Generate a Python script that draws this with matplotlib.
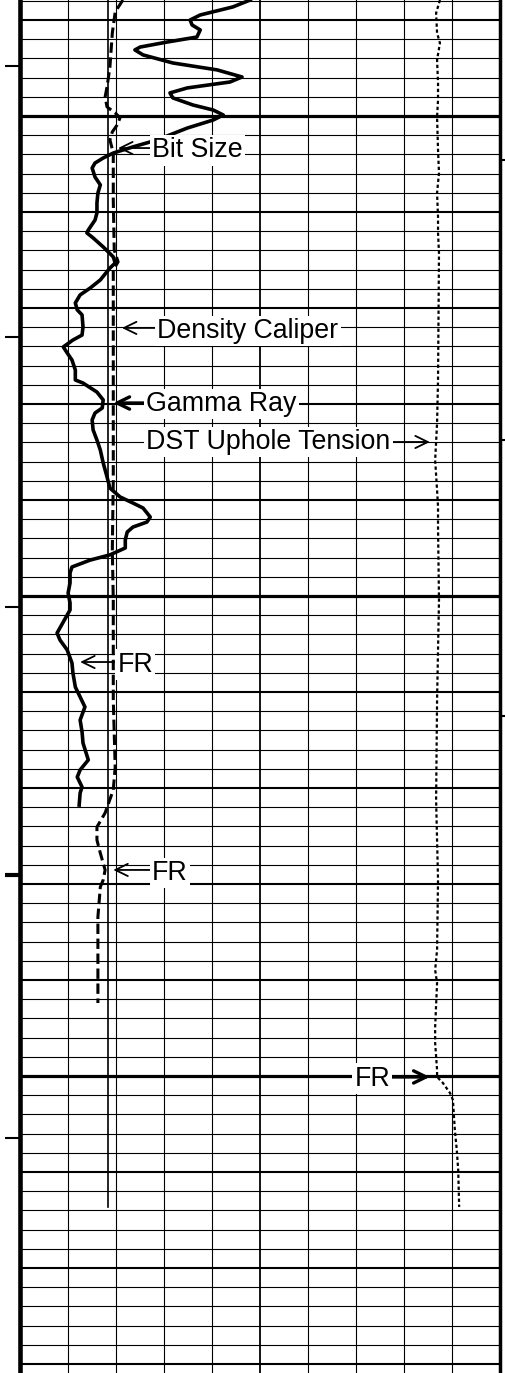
import matplotlib
matplotlib.use('Agg')
import matplotlib.pyplot as plt

plt.rcParams['font.family'] = ['Liberation Sans', 'DejaVu Sans']

# depth is in chart-line units (one horizontal grid line per unit),
# curve values are positions across the track (0-10 divisions)

gr_depth = [-1.04, -0.68, -0.26, 0.0, 0.26, 0.52, 0.89, 1.15, 1.41, 1.56,
            1.82, 2.24, 2.60, 2.97, 3.23, 3.54, 3.80, 4.06, 4.43, 4.69,
            4.95, 5.21, 5.63, 6.25, 6.61, 6.93, 7.19, 7.45, 7.71, 8.18,
            8.59, 9.01, 9.53, 10.05, 10.42, 10.94, 11.09, 11.35, 11.82, 12.34,
            12.66, 12.92, 13.54, 13.96, 14.32, 14.74, 15.10, 15.36, 15.99, 16.41,
            16.67, 17.03, 17.34, 17.71, 18.23, 18.75, 18.91, 19.38, 19.79, 20.21,
            20.47, 20.83, 21.35, 21.88, 22.40, 23.07, 23.80, 24.38, 24.84, 25.16,
            25.42, 25.89, 26.15, 26.41, 26.67, 27.08, 27.50, 27.86, 28.13, 28.49,
            28.80, 29.32, 29.84, 30.36, 30.73, 31.35, 31.93, 32.29, 32.81, 33.49,
            34.01, 34.74, 35.26, 35.78, 36.46, 37.08, 37.66, 38.54, 39.06, 39.43,
            39.95, 40.26, 40.89]
gamma_ray = [4.80, 4.44, 3.76, 3.55, 3.59, 3.76, 3.69, 3.07, 2.51, 2.40,
             2.57, 3.19, 4.11, 4.63, 4.38, 3.49, 3.13, 3.19, 3.61, 4.03,
             4.24, 4.03, 3.49, 2.86, 2.36, 1.95, 1.74, 1.57, 1.51, 1.57,
             1.68, 1.63, 1.61, 1.61, 1.57, 1.43, 1.40, 1.53, 1.74, 1.95,
             1.99, 1.88, 1.68, 1.47, 1.26, 1.16, 1.20, 1.30, 1.32, 1.30,
             1.11, 0.91, 0.99, 1.09, 1.16, 1.16, 1.32, 1.61, 1.74, 1.72,
             1.57, 1.51, 1.53, 1.61, 1.68, 1.74, 1.82, 1.88, 2.09, 2.36,
             2.57, 2.72, 2.65, 2.36, 2.24, 2.20, 2.20, 1.88, 1.47, 1.09,
             1.05, 1.05, 1.01, 1.05, 1.05, 0.91, 0.78, 0.84, 0.99, 1.09,
             1.11, 1.16, 1.26, 1.36, 1.26, 1.30, 1.32, 1.43, 1.26, 1.20,
             1.30, 1.26, 1.24]

cali_depth = [-1.04, -0.42, 0.68, 2.45, 3.49, 4.01, 4.53, 4.84, 5.10, 5.47,
              5.83, 6.25, 6.93, 9.38, 11.98, 12.60, 13.02, 16.15, 19.79, 23.96,
              27.60, 30.21, 35.42, 38.91, 40.10, 41.30, 42.03, 42.71, 43.39, 44.27,
              44.79, 45.16, 46.72, 48.44, 51.20]
density_caliper = [2.15, 1.99, 1.93, 1.88, 1.82, 1.78, 1.82, 1.99, 2.09, 2.03,
                   1.93, 1.88, 1.95, 1.95, 1.97, 2.05, 1.95, 1.95, 1.95, 1.95,
                   1.93, 1.95, 1.95, 1.99, 1.95, 1.78, 1.61, 1.61, 1.68, 1.78,
                   1.74, 1.68, 1.63, 1.63, 1.63]

bit_size = 1.85
bit_depth = [-1.04, 61.82]

ten_depth = [-1.04, -0.36, 0.68, 1.20, 2.08, 3.28, 4.17, 5.05, 6.77, 7.97,
             9.01, 10.26, 11.09, 12.14, 18.75, 20.99, 21.98, 22.92, 24.48, 25.36,
             26.41, 30.21, 35.42, 40.63, 44.79, 48.44, 49.48, 50.16, 52.45, 53.28,
             54.69, 55.05, 55.36, 55.89, 56.25, 57.81, 58.85, 59.90, 61.82]
tension = [8.75, 8.67, 8.69, 8.75, 8.69, 8.71, 8.71, 8.69, 8.71, 8.73,
           8.69, 8.71, 8.71, 8.73, 8.71, 8.69, 8.67, 8.65, 8.69, 8.71,
           8.71, 8.73, 8.69, 8.67, 8.71, 8.69, 8.65, 8.69, 8.65, 8.65,
           8.69, 8.69, 8.81, 8.96, 9.02, 9.06, 9.10, 9.13, 9.15]

left_ticks = [2.40, 16.51, 30.57, 44.53, 58.23]
right_ticks = [7.29, 21.9, 36.25]

# (text, text x, baseline depth, arrow tail x, arrow tip x, arrow depth, thick shaft)
labels = [
    ('Bit Size', 2.76, 7.16, 2.78, 2.05, 6.67, False),
    ('Density Caliper', 2.87, 16.55, 2.88, 2.13, 16.04, False),
    ('Gamma Ray', 2.64, 20.35, 2.65, 1.95, 19.95, True),
    ('DST Uphole Tension', 2.64, 22.36, 7.75, 8.54, 21.98, False),
    ('FR', 2.04, 33.94, 2.05, 1.26, 33.44, False),
    ('FR', 2.75, 44.79, 2.76, 1.95, 44.27, False),
    ('FR', 6.97, 55.5, 7.67, 8.54, 55.05, True),
]

fig = plt.figure(figsize=(5.06, 13.73), dpi=100)
ax = fig.add_axes([19.6 / 506, 0, 480.4 / 506, 1])
ax.set_xlim(0, 10)
ax.set_ylim(70.47, -1.04)

# chart grid
rows = list(range(-1, 71))
row_lw = []
for k in rows:
    if (k - 5) % 25 == 0:
        row_lw.append(2.3)
    elif k % 5 == 0:
        row_lw.append(1.5)
    else:
        row_lw.append(0.8)
ax.hlines(rows, 0, 10, colors='black', linewidths=row_lw, zorder=1)
cols = list(range(1, 10))
ax.vlines(cols, -2, 72, colors='black',
          linewidths=[1.3 if c == 5 else 0.8 for c in cols], zorder=1)

# curves
ax.plot(gamma_ray, gr_depth, color='black', lw=2.6, zorder=3,
        solid_joinstyle='round')
ax.plot(density_caliper, cali_depth, color='black', lw=2.2,
        dashes=(3.4, 1.5), zorder=3)
ax.plot([bit_size, bit_size], bit_depth, color='black', lw=1.2, zorder=3)
ax.plot(tension, ten_depth, color='black', lw=1.6, dashes=(1.5, 1.2), zorder=3)

for text, tx, ty, ax0, ax1, ay, thick in labels:
    ax.annotate('', xy=(ax1, ay), xytext=(ax0, ay),
                arrowprops=dict(arrowstyle='->, head_length=0.45, head_width=0.22',
                                lw=2.4 if thick else 1.3, color='black',
                                shrinkA=0, shrinkB=0, mutation_scale=20),
                zorder=4)
    ax.text(tx, ty, text, fontsize=19.3, ha='left', va='baseline', zorder=5,
            bbox=dict(boxstyle='square,pad=0.08', fc='white', ec='none'))

for side in ['top', 'bottom']:
    ax.spines[side].set_visible(False)
ax.spines['left'].set_linewidth(3.3)
ax.spines['right'].set_linewidth(2.5)

ax.set_xticks([])
ax.set_yticks(left_ticks)
ax.set_yticklabels([])
ax.tick_params(axis='y', direction='out', length=10.5, width=1.5,
               left=True, right=False)
ax.yaxis.get_major_ticks()[3].tick1line.set_markeredgewidth(3.0)

ax2 = ax.twinx()
ax2.set_ylim(ax.get_ylim())
ax2.set_yticks(right_ticks)
ax2.set_yticklabels([])
ax2.tick_params(axis='y', direction='out', length=8, width=1.5)
for s in ax2.spines.values():
    s.set_visible(False)

fig.savefig('out.png', dpi=100)
